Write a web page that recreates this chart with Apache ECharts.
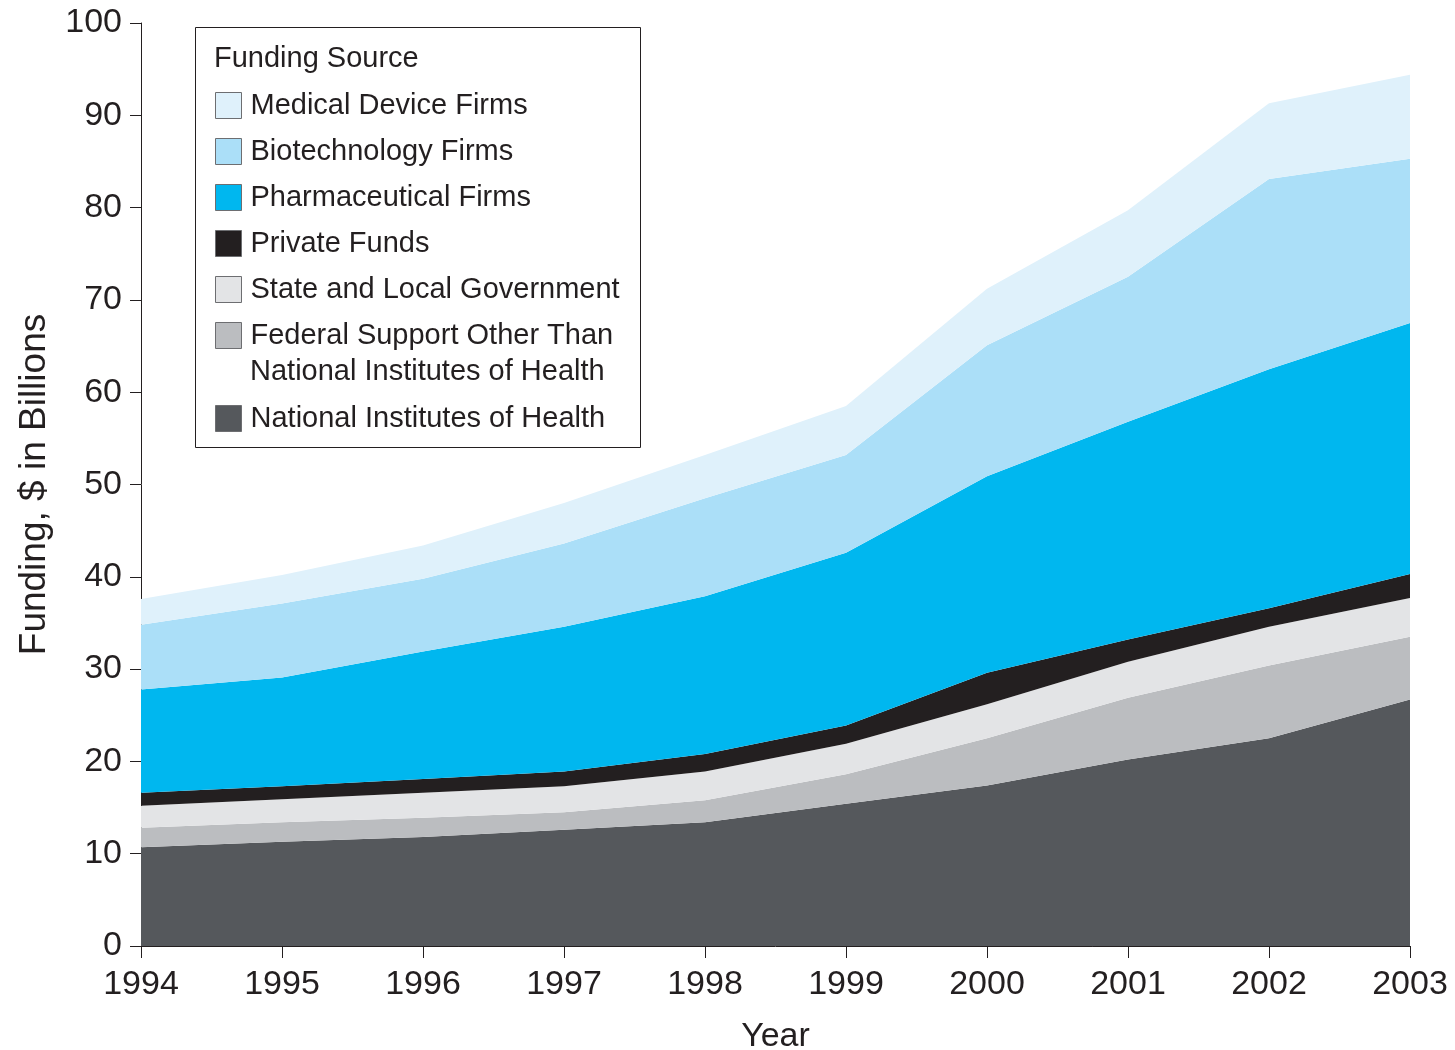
<!DOCTYPE html>
<html>
<head>
<meta charset="utf-8">
<script src="https://cdn.jsdelivr.net/npm/echarts@6/dist/echarts.min.js"></script>
<style>
  html, body { margin: 0; padding: 0; background: #ffffff; }
  #chart { width: 1455px; height: 1050px; }
</style>
</head>
<body>
<div id="chart"></div>
<script>
// Years on the x axis
const years = ['1994', '1995', '1996', '1997', '1998', '1999', '2000', '2001', '2002', '2003'];

// Funding by source, $ in billions (stacked from the bottom up)
const nih          = [10.7, 11.3, 11.8, 12.6, 13.4, 15.4, 17.4, 20.2, 22.5, 26.7];
const federalOther = [2.1, 2.1, 2.1, 1.9, 2.4, 3.2, 5.1, 6.7, 7.9, 6.8];
const stateLocal   = [2.4, 2.5, 2.7, 2.8, 3.1, 3.3, 3.7, 3.9, 4.2, 4.2];
const privateFunds = [1.4, 1.4, 1.5, 1.6, 1.9, 2.0, 3.4, 2.4, 2.0, 2.6];
const pharma       = [11.2, 11.8, 13.8, 15.7, 17.1, 18.7, 21.3, 23.6, 25.9, 27.2];
const biotech      = [7.0, 8.0, 7.9, 9.0, 10.6, 10.6, 14.2, 15.7, 20.6, 17.8];
const medDevice    = [2.8, 3.1, 3.6, 4.4, 4.7, 5.3, 6.1, 7.2, 8.2, 9.1];

// Y axis ticks
const yMin = 0, yMax = 100, yStep = 10;

const FONT = '"Liberation Sans", Arial, Helvetica, sans-serif';
const INK = '#231f20';
const LEGEND_SIZE = 29;

const FED_NAME = 'Federal Support Other Than National Institutes of Health';

const layers = [
  { name: 'National Institutes of Health', data: nih, color: '#55585c' },
  { name: FED_NAME, data: federalOther, color: '#bbbdc0' },
  { name: 'State and Local Government', data: stateLocal, color: '#e3e4e6' },
  { name: 'Private Funds', data: privateFunds, color: '#231f20' },
  { name: 'Pharmaceutical Firms', data: pharma, color: '#00b7ef' },
  { name: 'Biotechnology Firms', data: biotech, color: '#abdff8' },
  { name: 'Medical Device Firms', data: medDevice, color: '#dff1fb' }
];

const series = layers.map(l => ({
  name: l.name,
  type: 'line',
  stack: 'funding',
  data: l.data,
  symbol: 'none',
  smooth: false,
  lineStyle: { width: 0 },
  itemStyle: { color: l.color },
  areaStyle: { color: l.color, opacity: 1 },
  emphasis: { disabled: true }
}));

const legendCommon = {
  orient: 'vertical',
  left: 215,
  padding: 0,
  icon: 'rect',
  itemWidth: 26,
  itemHeight: 26,
  itemGap: 17,
  selectedMode: false,
  itemStyle: { borderColor: '#6d6e71', borderWidth: 1 },
  textStyle: {
    fontFamily: FONT,
    fontSize: LEGEND_SIZE,
    lineHeight: 26,
    color: INK,
    padding: [0, 0, 0, 4]
  }
};

const chart = echarts.init(document.getElementById('chart'), null, { renderer: 'canvas' });

chart.setOption({
  animation: false,
  backgroundColor: '#ffffff',
  grid: {
    left: 141, right: 45, top: 23, bottom: 104,
    containLabel: false,
    outerBoundsMode: 'none'
  },
  xAxis: {
    type: 'category',
    data: years,
    boundaryGap: false,
    name: 'Year',
    nameLocation: 'middle',
    nameGap: 74,
    nameTextStyle: { fontFamily: FONT, fontSize: 34, color: INK },
    axisLine: { show: true, lineStyle: { color: INK, width: 1 } },
    axisTick: { show: true, inside: false, length: 12, lineStyle: { color: INK, width: 1 } },
    axisLabel: { fontFamily: FONT, fontSize: 34, color: INK, margin: 22 },
    splitLine: { show: false }
  },
  yAxis: {
    type: 'value',
    min: yMin,
    max: yMax,
    interval: yStep,
    name: 'Funding, $ in Billions',
    nameLocation: 'middle',
    nameGap: 88,
    nameRotate: 90,
    nameTextStyle: { fontFamily: FONT, fontSize: 37, color: INK },
    axisLine: { show: true, lineStyle: { color: INK, width: 1 } },
    axisTick: { show: true, inside: false, length: 11, lineStyle: { color: INK, width: 1 } },
    axisLabel: { fontFamily: FONT, fontSize: 34, color: INK, margin: 19 },
    splitLine: { show: false }
  },
  legend: [
    Object.assign({}, legendCommon, {
      top: 91,
      data: ['Medical Device Firms', 'Biotechnology Firms', 'Pharmaceutical Firms',
             'Private Funds', 'State and Local Government', FED_NAME],
      formatter: n => (n === FED_NAME ? 'Federal Support Other Than' : n)
    }),
    Object.assign({}, legendCommon, {
      top: 404,
      data: ['National Institutes of Health']
    })
  ],
  graphic: [
    {
      type: 'rect',
      z: 1,
      shape: { x: 195.5, y: 27.5, width: 445, height: 420 },
      style: { fill: '#ffffff', stroke: INK, lineWidth: 1 }
    },
    {
      type: 'text',
      z: 5,
      x: 214,
      y: 59,
      style: {
        text: 'Funding Source',
        fontFamily: FONT,
        fontSize: LEGEND_SIZE,
        fill: INK,
        verticalAlign: 'middle'
      }
    },
    {
      type: 'text',
      z: 5,
      x: 250,
      y: 372,
      style: {
        text: 'National Institutes of Health',
        fontFamily: FONT,
        fontSize: LEGEND_SIZE,
        fill: INK,
        verticalAlign: 'middle'
      }
    }
  ],
  series: series
});
</script>
</body>
</html>
